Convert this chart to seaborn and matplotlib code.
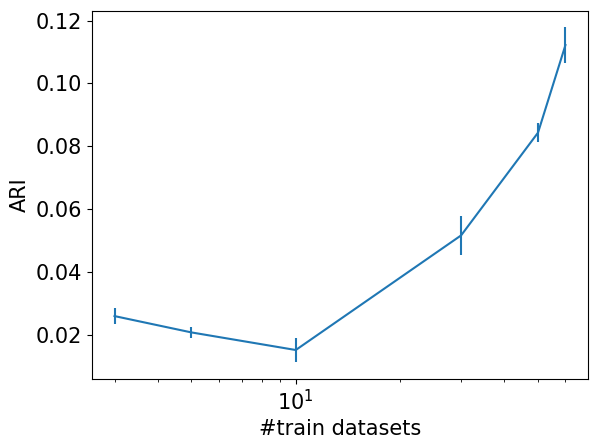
import matplotlib
matplotlib.use("Agg")
import matplotlib.pyplot as plt
import seaborn as sns
import pandas as pd

n_train = [3, 5, 10, 30, 50, 60]
ari_mean = [0.0259, 0.0207, 0.0151, 0.0516, 0.0843, 0.1122]
ari_err = [0.0025, 0.0018, 0.0039, 0.0062, 0.0031, 0.0056]

df = pd.DataFrame({"n": n_train, "ari": ari_mean, "err": ari_err})

fig = plt.figure(figsize=(5.97, 4.48), dpi=100)
ax = fig.add_axes([92 / 597, 1 - 379 / 448, (588 - 92) / 597, (379 - 10.7) / 448])

sns.lineplot(data=df, x="n", y="ari", ax=ax, color="#1f77b4", linewidth=1.5)
ax.errorbar(df["n"], df["ari"], yerr=df["err"], fmt="none", ecolor="#1f77b4",
            elinewidth=1.5, capsize=0)
ax.set_xscale("log")

ax.set_xlabel("#train datasets", fontsize=15)
ax.set_ylabel("ARI", fontsize=15)
ax.tick_params(axis="both", which="major", labelsize=15)

fig.savefig("out.png", dpi=100)
